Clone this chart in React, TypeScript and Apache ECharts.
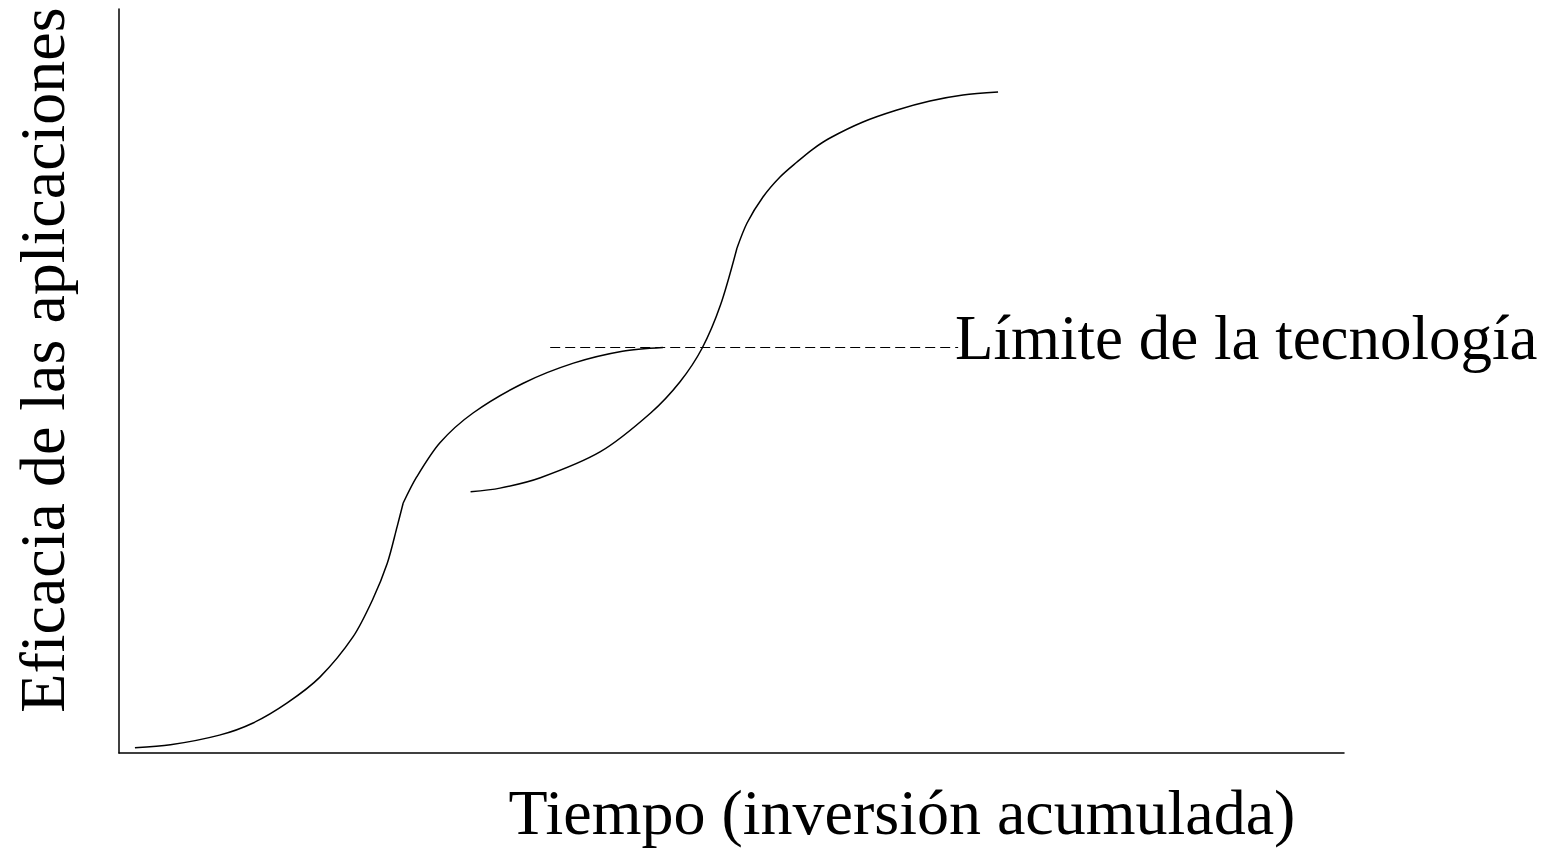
import React, { useEffect, useRef } from "react";
import * as echarts from "echarts";

// Abstract units: x = accumulated investment (0-100), y = effectiveness (0-100)
const curve1Lower: [number, number][] = [
  [1.3, 0.7], [4.2, 1.1], [8.2, 2.4], [10.9, 4.0], [13.7, 6.7], [16.4, 10.2],
  [19.1, 15.6], [20.7, 20.6], [21.9, 25.5], [22.7, 30.4], [23.2, 33.6],
];
const curve1Upper: [number, number][] = [
  [23.2, 33.6], [24.3, 37.1], [26.2, 41.7], [28.9, 45.7], [33.0, 49.7],
  [37.1, 52.4], [41.1, 54.0], [44.4, 54.5],
];
const curve2Lower: [number, number][] = [
  [28.7, 35.1], [31.1, 35.6], [34.4, 37.0], [39.3, 40.5], [43.4, 45.7],
  [45.8, 49.9], [47.6, 54.4], [49.1, 60.2], [50.45, 67.88],
];
const curve2Upper: [number, number][] = [
  [50.45, 67.88], [51.27, 71.24], [52.57, 74.73], [53.96, 77.42], [55.35, 79.44],
  [56.65, 81.18], [58.04, 82.66], [60.73, 84.81], [63.51, 86.42], [66.2, 87.63],
  [68.9, 88.44], [71.76, 88.84],
];
const technologyLimit: [number, number][] = [
  [35.2, 54.5], [68.5, 54.5],
];

const xTitle = "Tiempo (inversión acumulada)";
const yTitle = "Eficacia de las aplicaciones";
const limitLabel = "Límite de la tecnología";

const FONT = '"Liberation Serif", "Times New Roman", serif';

export default function App() {
  const ref = useRef<HTMLDivElement>(null);
  useEffect(() => {
    if (!ref.current) return;
    const chart = echarts.init(ref.current, undefined, { renderer: "svg" });
    const curveStyle = { color: "#000", width: 1.5 };
    const mkCurve = (data: [number, number][]) => ({
      type: "line",
      data,
      smooth: 0.3,
      symbol: "none",
      lineStyle: curveStyle,
      silent: true,
    });
    chart.setOption({
      animation: false,
      backgroundColor: "#fff",
      grid: { left: 119, right: 224, top: 9, bottom: 95 },
      xAxis: {
        type: "value",
        min: 0,
        max: 100,
        axisLine: { show: true, lineStyle: { color: "#000", width: 1.5 } },
        axisTick: { show: false },
        axisLabel: { show: false },
        splitLine: { show: false },
      },
      yAxis: {
        type: "value",
        min: 0,
        max: 100,
        axisLine: { show: true, lineStyle: { color: "#000", width: 1.5 } },
        axisTick: { show: false },
        axisLabel: { show: false },
        splitLine: { show: false },
      },
      series: [
        mkCurve(curve1Lower),
        mkCurve(curve1Upper),
        mkCurve(curve2Lower),
        mkCurve(curve2Upper),
        {
          type: "line",
          data: technologyLimit,
          symbol: "none",
          silent: true,
          lineStyle: { color: "#000", width: 1.2, type: [10, 5] },
        },
      ],
      graphic: [
        {
          type: "text",
          left: 955,
          top: 338 - 32,
          style: { text: limitLabel, font: `63px ${FONT}`, fill: "#000" },
        },
        {
          type: "text",
          x: 902,
          y: 812,
          style: {
            text: xTitle,
            font: `64px ${FONT}`,
            fill: "#000",
            align: "center",
            verticalAlign: "middle",
          },
        },
        {
          type: "text",
          x: 42,
          y: 360,
          rotation: Math.PI / 2,
          style: {
            text: yTitle,
            font: `64px ${FONT}`,
            fill: "#000",
            align: "center",
            verticalAlign: "middle",
          },
        },
      ],
    });
    return () => chart.dispose();
  }, []);
  return (
    <div
      ref={ref}
      style={{ position: "fixed", left: 0, top: 0, width: 1568, height: 848, background: "#fff" }}
    />
  );
}
